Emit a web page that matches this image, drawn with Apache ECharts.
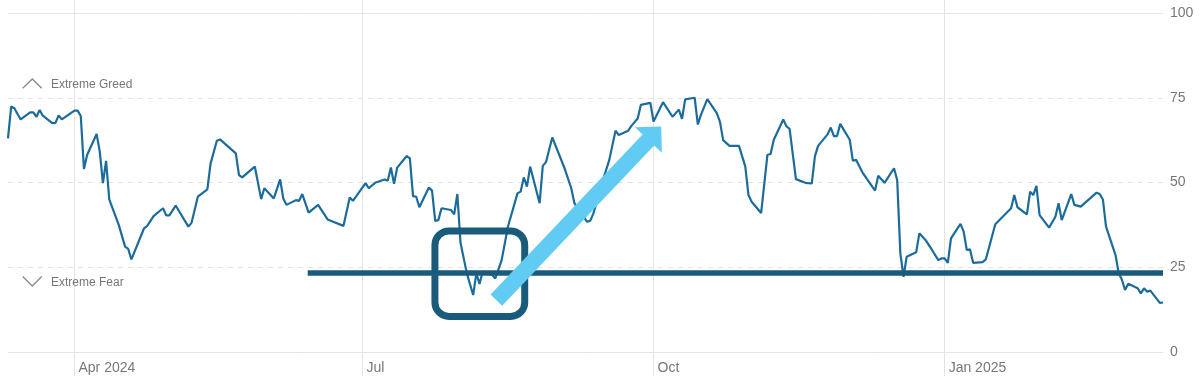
<!DOCTYPE html>
<html><head><meta charset="utf-8">
<script src="https://cdn.jsdelivr.net/npm/echarts@6/dist/echarts.min.js"></script>
<style>html,body{margin:0;padding:0;background:#fff}#c{width:1200px;height:383px}</style>
</head><body><div id="c"></div>
<script>
// ---- data ----
const dates = [
  '2024-03-11','2024-03-12','2024-03-13','2024-03-15','2024-03-18','2024-03-19','2024-03-20','2024-03-21','2024-03-22','2024-03-25','2024-03-26','2024-03-27','2024-03-28',
  '2024-04-01','2024-04-02','2024-04-03','2024-04-04','2024-04-05','2024-04-08','2024-04-09','2024-04-10','2024-04-11','2024-04-12','2024-04-15','2024-04-17','2024-04-18','2024-04-19','2024-04-23','2024-04-24','2024-04-26','2024-04-29','2024-04-30',
  '2024-05-01','2024-05-03','2024-05-07','2024-05-08','2024-05-10','2024-05-13','2024-05-14','2024-05-16','2024-05-17','2024-05-22','2024-05-23','2024-05-24','2024-05-28','2024-05-30','2024-05-31',
  '2024-06-03','2024-06-05','2024-06-06','2024-06-07','2024-06-10','2024-06-11','2024-06-12','2024-06-14','2024-06-17','2024-06-20','2024-06-21','2024-06-25','2024-06-27','2024-06-28',
  '2024-07-02','2024-07-03','2024-07-05','2024-07-08','2024-07-09','2024-07-10','2024-07-11','2024-07-12','2024-07-15','2024-07-16','2024-07-17','2024-07-18','2024-07-19','2024-07-22','2024-07-23','2024-07-24','2024-07-25','2024-07-26','2024-07-29','2024-07-30','2024-07-31',
  '2024-08-01','2024-08-03','2024-08-05','2024-08-06','2024-08-07','2024-08-08','2024-08-11','2024-08-12','2024-08-14','2024-08-16','2024-08-19','2024-08-20','2024-08-21','2024-08-22','2024-08-23','2024-08-26','2024-08-27','2024-08-28','2024-08-30',
  '2024-09-03','2024-09-05','2024-09-06','2024-09-10','2024-09-11','2024-09-12','2024-09-15','2024-09-17','2024-09-19','2024-09-20','2024-09-23','2024-09-24','2024-09-26','2024-09-27','2024-09-30',
  '2024-10-01','2024-10-04','2024-10-07','2024-10-09','2024-10-10','2024-10-11','2024-10-14','2024-10-15','2024-10-16','2024-10-18','2024-10-21','2024-10-22','2024-10-23','2024-10-25','2024-10-28','2024-10-30','2024-10-31',
  '2024-11-01','2024-11-04','2024-11-06','2024-11-07','2024-11-08','2024-11-11','2024-11-12','2024-11-13','2024-11-15','2024-11-18','2024-11-20','2024-11-21','2024-11-22','2024-11-25','2024-11-26','2024-11-27','2024-11-28','2024-11-29',
  '2024-12-02','2024-12-03','2024-12-04','2024-12-06','2024-12-10','2024-12-11','2024-12-13','2024-12-16','2024-12-17','2024-12-18','2024-12-19','2024-12-20','2024-12-23','2024-12-24','2024-12-26','2024-12-28','2024-12-30','2024-12-31',
  '2025-01-01','2025-01-02','2025-01-03','2025-01-06','2025-01-07','2025-01-08','2025-01-09','2025-01-10','2025-01-13','2025-01-14','2025-01-17','2025-01-22','2025-01-23','2025-01-24','2025-01-27','2025-01-28','2025-01-29','2025-01-30','2025-01-31',
  '2025-02-03','2025-02-05','2025-02-06','2025-02-07','2025-02-10','2025-02-11','2025-02-13','2025-02-18','2025-02-19','2025-02-20','2025-02-21','2025-02-24','2025-02-25','2025-02-26','2025-02-27','2025-02-28',
  '2025-03-03','2025-03-04','2025-03-05','2025-03-06','2025-03-07','2025-03-10','2025-03-11'
];
const values = [
  63, 72.4, 71.9, 68.6, 70.7, 70.7, 69.4, 71.4, 69.7, 67.5, 67.6, 69.8, 68.6,
  71.2, 71.2, 69.6, 54, 58.1, 64.3, 59.1, 49.8, 56.4, 45, 37.5, 31.1, 30.4, 27.3, 36.5, 37.2, 40.1, 42.4, 40.3,
  40.3, 43.2, 37, 38.1, 45.8, 48, 55.5, 62.3, 62.7, 58.6, 52.2, 51.5, 54.7, 45.1, 48.3,
  45.3, 50.9, 45.3, 43.4, 44.8, 44.6, 46.6, 41.1, 43.4, 39.1, 38.7, 37.2, 45.6, 44.6,
  49.8, 48.3, 49.9, 50.9, 50.5, 54.4, 49.6, 54.4, 57.8, 57.1, 46, 45.8, 42.7, 48.5, 47.6, 38.7, 38.9, 42.4, 41.9, 40.6, 46.6,
  32.2, 23.2, 16.8, 23.2, 20.1, 23.7, 22.7, 21.7, 27.1, 37, 46.8, 47.3, 51.5, 48.8, 54.7, 43.9, 54.9, 56, 63.3,
  53.9, 48.3, 43.9, 38.4, 38.7, 40.9, 50.7, 56.6, 65.3, 64, 65.3, 66.7, 68.9, 72.9, 73.5,
  68, 73.7, 69.4, 71.5, 68.8, 74.5, 75, 67.1, 70, 74.6, 70.5, 67.9, 62.5, 60.8, 60.8, 54.7, 46.3,
  44.3, 41, 58.2, 58.4, 62.6, 68.6, 66.6, 65.8, 51, 49.9, 49.7, 57.7, 60.8, 64.2, 66.2, 63.7, 63.7, 67.3,
  62.6, 56.4, 56.7, 53, 47.6, 52, 49.9, 54.2, 50.7, 29.1, 22.2, 28.1, 29.4, 35, 33, 30.1, 27.1, 27.6,
  27.6, 26.3, 33.5, 37.8, 35.5, 30.1, 30.3, 26.3, 26.5, 27.3, 37.7, 42.4, 46.3, 42.7, 40.6, 47.3, 46.3, 49, 40.4,
  36.7, 39.9, 43.9, 38.9, 46.6, 43.4, 42.9, 47, 46.6, 45, 37, 28.6, 23.2, 21.4, 18.3, 20.1,
  18.8, 17.3, 18.8, 17.8, 18.1, 14.5, 14.6
];
const xTickDates = ['2024-04-01', '2024-07-01', '2024-10-01', '2025-01-01'];
const xTickLabels = ['Apr 2024', 'Jul', 'Oct', 'Jan 2025'];
const yMin = 0, yMax = 100, yStep = 25;
const zoneLabels = ['Extreme Greed', 'Extreme Fear'];
// annotation anchors, in data coordinates
const levelLine = { from: '2024-06-13 17:00', to: '2025-03-11', value: 23.3 };
const boxAnchor = { from: ['2024-07-23 22:00', 35.7], to: ['2024-08-21 07:00', 10.5] };
const arrowAnchor = { from: ['2024-08-12 08:00', 15.3], to: ['2024-10-03 10:00', 66.5] };

// ---- chart ----
const parse = s => echarts.number.parseDate(s).getTime();
const tickTs = xTickDates.map(parse);
const xMin = parse(dates[0]), xMax = parse(dates[dates.length - 1]);
const FONT = '"Liberation Sans", Arial, sans-serif';
const GRID_C = '#e4e4e4';
const chart = echarts.init(document.getElementById('c'), null, { renderer: 'canvas' });

chart.setOption({
  animation: false,
  grid: { left: 8, right: 37, top: 13, bottom: 31 },
  xAxis: [{
    type: 'value', min: xMin, max: xMax, scale: true,
    axisLine: { show: true, lineStyle: { color: GRID_C, width: 1 } },
    axisTick: { show: true, customValues: tickTs, length: 24, lineStyle: { color: GRID_C } },
    axisLabel: {
      customValues: tickTs,
      formatter: v => { const i = tickTs.indexOf(v); return i >= 0 ? xTickLabels[i] : ''; },
      align: 'left', padding: [0, 0, 0, 4], margin: 9, color: '#777', fontSize: 14, fontFamily: FONT
    },
    splitLine: { show: true, lineStyle: { color: GRID_C, width: 1 } }
  }, {
    type: 'value', position: 'top', min: xMin, max: xMax, scale: true,
    axisLine: { show: true, lineStyle: { color: GRID_C, width: 1 } },
    axisTick: { show: true, customValues: tickTs, length: 13, lineStyle: { color: GRID_C } },
    axisLabel: { show: false }, splitLine: { show: false }
  }],
  yAxis: {
    type: 'value', position: 'right', min: yMin, max: yMax, interval: yStep,
    axisLine: { show: false }, axisTick: { show: false },
    axisLabel: { color: '#777', fontSize: 14, margin: 7, fontFamily: FONT },
    splitLine: { show: true, lineStyle: { color: GRID_C, type: [5, 5], width: 1 } }
  },
  series: [{
    type: 'line', xAxisIndex: 0, yAxisIndex: 0,
    data: dates.map((d, i) => [parse(d), values[i]]),
    symbol: 'none', showSymbol: false,
    lineStyle: { color: '#1c6c9b', width: 2.2 }
  }]
});

const px = p => chart.convertToPixel({ xAxisIndex: 0, yAxisIndex: 0 }, [parse(p[0]), p[1]]);
const DARK = '#1a5b7c', LIGHT = '#62cbf3';
const g = [];
// level line
const l1 = px([levelLine.from, levelLine.value]), l2 = px([levelLine.to, levelLine.value]);
g.push({ type: 'line', z: 100, shape: { x1: l1[0], y1: l1[1], x2: l2[0], y2: l2[1] }, style: { stroke: DARK, lineWidth: 5.3 } });
// box
const b1 = px(boxAnchor.from), b2 = px(boxAnchor.to);
g.push({ type: 'rect', z: 101, shape: { x: b1[0], y: b1[1], width: b2[0] - b1[0], height: b2[1] - b1[1], r: 14 },
  style: { fill: 'none', stroke: DARK, lineWidth: 7 } });
// arrow
const S = px(arrowAnchor.from), T = px(arrowAnchor.to);
const dx = T[0] - S[0], dy = T[1] - S[1], len = Math.hypot(dx, dy);
const ux = dx / len, uy = dy / len, pxp = -uy, pyp = ux;
const headLen = 18.5, halfW = 18.5;
const B = [T[0] - ux * headLen, T[1] - uy * headLen];
g.push({ type: 'line', z: 102, shape: { x1: S[0], y1: S[1], x2: B[0] + ux * 2, y2: B[1] + uy * 2 },
  style: { stroke: LIGHT, lineWidth: 16, lineCap: 'butt' } });
g.push({ type: 'polygon', z: 102, shape: { points: [T, [B[0] + pxp * halfW, B[1] + pyp * halfW], [B[0] - pxp * halfW, B[1] - pyp * halfW]] },
  style: { fill: LIGHT } });
// zone labels
g.push({ type: 'polyline', z: 100, shape: { points: [[22.7, 88.3], [32.3, 79], [41.7, 88.3]] }, style: { stroke: '#8a8a8a', lineWidth: 1.3, fill: 'none' } });
g.push({ type: 'text', z: 100, style: { text: zoneLabels[0], x: 51, y: 85, fill: '#777', fontSize: 12, fontFamily: FONT, verticalAlign: 'middle', align: 'left' } });
g.push({ type: 'polyline', z: 100, shape: { points: [[22.7, 276.5], [32.3, 286], [41.7, 276.5]] }, style: { stroke: '#8a8a8a', lineWidth: 1.3, fill: 'none' } });
g.push({ type: 'text', z: 100, style: { text: zoneLabels[1], x: 51, y: 283, fill: '#777', fontSize: 12, fontFamily: FONT, verticalAlign: 'middle', align: 'left' } });
chart.setOption({ graphic: g });
</script></body></html>
